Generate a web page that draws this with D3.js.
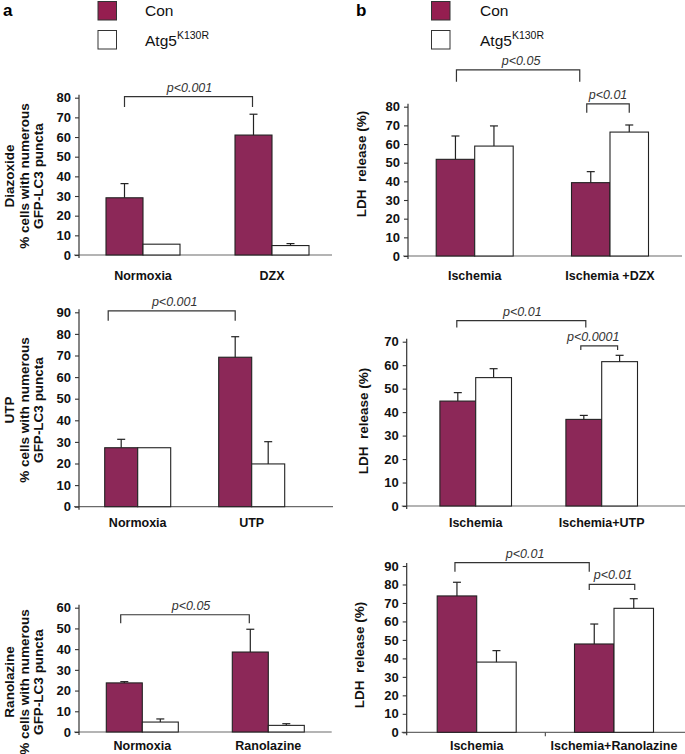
<!DOCTYPE html>
<html><head><meta charset="utf-8">
<script src="https://cdn.jsdelivr.net/npm/d3@7"></script>
<style>
body{margin:0;background:#fff}
svg{display:block}
text{font-family:"Liberation Sans",Arial,Helvetica,sans-serif}
</style>
</head><body>
<svg id="chart" width="685" height="754"></svg>
<script>
// ---------------- DATA ----------------
const seriesKeys = ["Con", "Atg5"];
const legendLabels = ["Con", "Atg5"];
const legendSup = ["", "K130R"];

// a – Diazoxide
const a1Categories = ["Normoxia", "DZX"];
const a1Con = [29.1, 61.0];
const a1ConErr = [7.2, 10.6];
const a1Atg = [5.5, 4.8];
const a1AtgErr = [0, 1.0];
const a1Ticks = [0, 10, 20, 30, 40, 50, 60, 70, 80];
const a1YLabel = ["Diazoxide", "% cells with numerous", "GFP-LC3 puncta"];
const a1PLabels = ["p<0.001"];

// b – Ischemia + DZX
const b1Categories = ["Ischemia", "Ischemia +DZX"];
const b1Con = [51.8, 39.3];
const b1ConErr = [12.5, 5.9];
const b1Atg = [58.9, 66.4];
const b1AtgErr = [10.8, 3.8];
const b1Ticks = [0, 10, 20, 30, 40, 50, 60, 70, 80];
const b1PLabels = ["p<0.05", "p<0.01"];

// a – UTP
const a2Categories = ["Normoxia", "UTP"];
const a2Con = [27.3, 69.2];
const a2ConErr = [3.9, 9.5];
const a2Atg = [27.3, 19.8];
const a2AtgErr = [0, 10.3];
const a2Ticks = [0, 10, 20, 30, 40, 50, 60, 70, 80, 90];
const a2YLabel = ["UTP", "% cells with numerous", "GFP-LC3 puncta"];
const a2PLabels = ["p<0.001"];

// b – Ischemia + UTP
const b2Categories = ["Ischemia", "Ischemia+UTP"];
const b2Con = [44.7, 36.9];
const b2ConErr = [3.6, 1.7];
const b2Atg = [54.7, 61.5];
const b2AtgErr = [3.8, 2.7];
const b2Ticks = [0, 10, 20, 30, 40, 50, 60, 70];
const b2PLabels = ["p<0.01", "p<0.0001"];

// a – Ranolazine
const a3Categories = ["Normoxia", "Ranolazine"];
const a3Con = [23.7, 38.6];
const a3ConErr = [0.6, 11.0];
const a3Atg = [4.8, 3.2];
const a3AtgErr = [1.5, 0.8];
const a3Ticks = [0, 10, 20, 30, 40, 50, 60];
const a3YLabel = ["Ranolazine", "% cells with numerous", "GFP-LC3 puncta"];
const a3PLabels = ["p<0.05"];

// b – Ischemia + Ranolazine
const b3Categories = ["Ischemia", "Ischemia+Ranolazine"];
const b3Con = [73.8, 47.8];
const b3ConErr = [7.4, 10.8];
const b3Atg = [38.0, 67.1];
const b3AtgErr = [6.2, 5.2];
const b3Ticks = [0, 10, 20, 30, 40, 50, 60, 70, 80, 90];
const b3PLabels = ["p<0.01", "p<0.01"];

const bYLabel = ["LDH\u00a0\u00a0release (%)"];

// ---------------- LAYOUT ----------------
const conFill = "#8c2858";
const panels = [
  {cats:a1Categories, con:a1Con, conErr:a1ConErr, atg:a1Atg, atgErr:a1AtgErr, ticks:a1Ticks, ylab:a1YLabel,
   axisX:79, axisEnd:332, y0:255, yTop:97.7, centers:[143,272], w:37, labelY:280, ylabX:[14,28.5,43], ylabCY:176,
   brackets:[{p:a1PLabels[0], a:[0,0,0], b:[1,0,-1], top:80.5, bot:75.3, tdx:1}]},
  {cats:b1Categories, con:b1Con, conErr:b1ConErr, atg:b1Atg, atgErr:b1AtgErr, ticks:b1Ticks, ylab:bYLabel,
   axisX:408, axisEnd:682, y0:256, yTop:106.7, centers:[474.7,610], w:38.5, labelY:280, ylabX:[366], ylabCY:164,
   brackets:[{p:b1PLabels[0], a:[0,0,1], b:[1,0,-11], top:99.7, bot:93.4, tdx:3},
             {p:b1PLabels[1], a:[1,0,-4], b:[1,1,0], top:81.5, bot:76.8, tdx:0}]},
  {cats:a2Categories, con:a2Con, conErr:a2ConErr, atg:a2Atg, atgErr:a2AtgErr, ticks:a2Ticks, ylab:a2YLabel,
   axisX:79, axisEnd:333, y0:506.7, yTop:312.3, centers:[137.7,251.7], w:33, labelY:527, ylabX:[14,28.5,43], ylabCY:410,
   brackets:[{p:a2PLabels[0], a:[0,0,-13], b:[1,0,0], top:90.7, bot:86.1, tdx:3}]},
  {cats:b2Categories, con:b2Con, conErr:b2ConErr, atg:b2Atg, atgErr:b2AtgErr, ticks:b2Ticks, ylab:bYLabel,
   axisX:406.7, axisEnd:685, y0:506, yTop:341.7, centers:[475.7,601.7], w:35.8, labelY:527, ylabX:[368], ylabCY:421,
   brackets:[{p:b2PLabels[0], a:[0,0,-1], b:[1,0,2], top:79.0, bot:76.1, tdx:1},
             {p:b2PLabels[1], a:[1,0,-3], b:[1,1,-2], top:68.2, bot:66.5, tdx:-6}]},
  {cats:a3Categories, con:a3Con, conErr:a3ConErr, atg:a3Atg, atgErr:a3AtgErr, ticks:a3Ticks, ylab:a3YLabel,
   axisX:79, axisEnd:331.7, y0:732, yTop:607.7, centers:[142.3,268.3], w:36, labelY:750, ylabX:[14,28.5,43], ylabCY:682,
   brackets:[{p:a3PLabels[0], a:[0,0,-3.6], b:[1,0,-1], top:56.6, bot:52.5, tdx:6}]},
  {cats:b3Categories, con:b3Con, conErr:b3ConErr, atg:b3Atg, atgErr:b3AtgErr, ticks:b3Ticks, ylab:bYLabel,
   axisX:406.7, axisEnd:685, y0:732.3, yTop:566, centers:[476.7,614], w:39.5, labelY:750, ylabX:[364], ylabCY:655, midTick:true,
   brackets:[{p:b3PLabels[0], a:[0,0,-2], b:[1,0,-5], top:91.8, bot:86.9, tdx:3},
             {p:b3PLabels[1], a:[1,0,-5], b:[1,1,1], top:80.1, bot:77.0, tdx:1}]}
];

const svg = d3.select("#chart");

panels.forEach(P => {
  const g = svg.append("g");
  const yMax = P.ticks[P.ticks.length - 1];
  const y = d3.scaleLinear().domain([0, yMax]).range([P.y0, P.yTop]);
  const x = d3.scalePoint().domain(P.cats).range(P.centers);
  const sub = d3.scaleBand().domain(seriesKeys).range([-P.w, P.w]).padding(0);
  const rows = [];
  P.cats.forEach((c, i) => {
    rows.push({cat:c, s:"Con", v:P.con[i], e:P.conErr[i]});
    rows.push({cat:c, s:"Atg5", v:P.atg[i], e:P.atgErr[i]});
  });

  // x axis line
  g.append("line").attr("x1", P.axisX - 5).attr("x2", P.axisEnd)
    .attr("y1", y(0)).attr("y2", y(0)).attr("stroke", "#6a6a6a").attr("stroke-width", 1.2);
  if (P.midTick) {
    const mx = (x(P.cats[0]) + x(P.cats[1])) / 2;
    g.append("line").attr("x1", mx).attr("x2", mx).attr("y1", y(0)).attr("y2", y(0) + 4)
      .attr("stroke", "#555").attr("stroke-width", 1.2);
  }

  // y axis
  const yAxis = d3.axisLeft(y).tickValues(P.ticks).tickSize(4).tickPadding(4).tickFormat(d3.format("d"));
  const ya = g.append("g").attr("transform", `translate(${P.axisX},0)`).call(yAxis);
  ya.select(".domain").remove();
  ya.selectAll(".tick line").attr("stroke", "#333").attr("stroke-width", 1.1);
  ya.selectAll(".tick text").attr("font-size", 13).attr("font-weight", "bold").attr("fill", "#111")
    .attr("font-family", '"Liberation Sans",Arial,sans-serif');
  g.append("line").attr("x1", P.axisX).attr("x2", P.axisX).attr("y1", y(0) + 3).attr("y2", y(yMax) - 3)
    .attr("stroke", "#333").attr("stroke-width", 1.2);

  // bars
  g.selectAll("rect.bar").data(rows).join("rect").attr("class", "bar")
    .attr("x", d => x(d.cat) + sub(d.s))
    .attr("width", sub.bandwidth())
    .attr("y", d => y(d.v))
    .attr("height", d => y(0) - y(d.v))
    .attr("fill", d => d.s === "Con" ? conFill : "#fff")
    .attr("stroke", "#222").attr("stroke-width", 1.1);

  // error bars (upper)
  const eb = rows.filter(d => d.e > 0);
  g.selectAll("line.ev").data(eb).join("line").attr("class", "ev")
    .attr("x1", d => x(d.cat) + sub(d.s) + sub.bandwidth() / 2)
    .attr("x2", d => x(d.cat) + sub(d.s) + sub.bandwidth() / 2)
    .attr("y1", d => y(d.v)).attr("y2", d => y(d.v + d.e))
    .attr("stroke", "#222").attr("stroke-width", 1.2);
  g.selectAll("line.ec").data(eb).join("line").attr("class", "ec")
    .attr("x1", d => x(d.cat) + sub(d.s) + sub.bandwidth() / 2 - 4)
    .attr("x2", d => x(d.cat) + sub(d.s) + sub.bandwidth() / 2 + 4)
    .attr("y1", d => y(d.v + d.e)).attr("y2", d => y(d.v + d.e))
    .attr("stroke", "#222").attr("stroke-width", 1.2);

  // category labels
  g.selectAll("text.cat").data(P.cats).join("text").attr("class", "cat")
    .attr("x", d => x(d)).attr("y", P.labelY).attr("text-anchor", "middle")
    .attr("font-size", 12.5).attr("font-weight", "bold").attr("fill", "#111").text(d => d);

  // y label
  P.ylab.forEach((t, i) => {
    g.append("text")
      .attr("transform", `translate(${P.ylabX[i]},${P.ylabCY}) rotate(-90)`)
      .attr("text-anchor", "middle").attr("font-size", 13.5).attr("font-weight", "bold")
      .attr("fill", "#111").style("white-space", "pre").text(t);
  });

  // brackets
  const ex = (r) => x(P.cats[r[0]]) + sub(seriesKeys[r[1]]) + sub.bandwidth() / 2 + r[2];
  P.brackets.forEach(B => {
    const x1 = ex(B.a), x2 = ex(B.b), yt = y(B.top), yb = y(B.bot);
    g.append("path").attr("d", `M${x1},${yb}V${yt}H${x2}V${yb}`)
      .attr("fill", "none").attr("stroke", "#333").attr("stroke-width", 1.2);
    g.append("text").attr("x", (x1 + x2) / 2 + B.tdx).attr("y", yt - 5)
      .attr("text-anchor", "middle").attr("font-size", 12.5).attr("font-style", "italic")
      .attr("fill", "#333").text(B.p);
  });
});

// panel letters & legends
const letters = [{t:"a", x:3, rx:98, tx:145}, {t:"b", x:356, rx:431.5, tx:480}];
letters.forEach(L => {
  svg.append("text").attr("x", L.x).attr("y", 16).attr("font-size", 17).attr("font-weight", "bold")
    .attr("fill", "#000").text(L.t);
  seriesKeys.forEach((s, i) => {
    svg.append("rect").attr("x", L.rx).attr("y", 1.5 + i * 29).attr("width", 18.5).attr("height", 18.5)
      .attr("fill", s === "Con" ? "#951e50" : "#fff").attr("stroke", "#333").attr("stroke-width", 1);
    const t = svg.append("text").attr("x", L.tx).attr("y", 16 + i * 30).attr("font-size", 15.5).attr("fill", "#111");
    t.append("tspan").text(legendLabels[i]);
    if (legendSup[i]) t.append("tspan").attr("dy", -7).attr("font-size", 10.5).text(legendSup[i]);
  });
});
</script>
</body></html>
